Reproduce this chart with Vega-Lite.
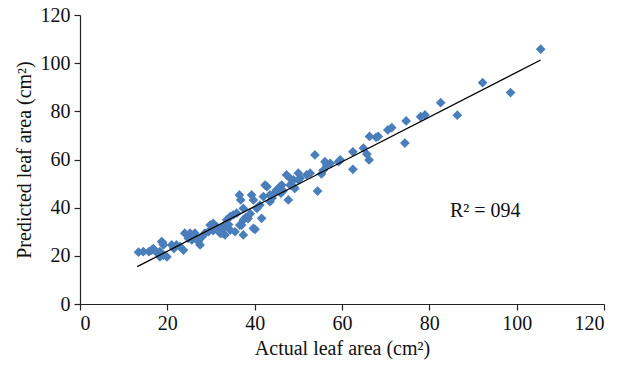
{
  "$schema": "https://vega.github.io/schema/vega-lite/v6.json",
  "autosize": "none",
  "width": 524,
  "height": 289,
  "padding": {"left": 80, "top": 15, "right": 30, "bottom": 63},
  "background": "white",
  "config": {
    "view": {"stroke": null},
    "font": "Liberation Serif",
    "axis": {
      "grid": false,
      "domainColor": "#222222",
      "tickColor": "#222222",
      "labelColor": "#111111",
      "titleColor": "#111111",
      "labelFont": "Liberation Serif",
      "titleFont": "Liberation Serif",
      "labelFontSize": 20,
      "titleFontSize": 20,
      "titleFontWeight": "normal",
      "tickSize": 6,
      "domainWidth": 1.2,
      "tickWidth": 1.2
    }
  },
  "datasets": {
    "pts": [
      {"a": 13.4, "p": 21.5}, {"a": 14.5, "p": 21.7}, {"a": 15.8, "p": 21.7}, {"a": 16.4, "p": 22.4},
      {"a": 16.8, "p": 23.0}, {"a": 17.6, "p": 21.3}, {"a": 18.3, "p": 21.7}, {"a": 18.3, "p": 19.6},
      {"a": 19.1, "p": 20.3}, {"a": 19.9, "p": 19.6}, {"a": 18.7, "p": 25.9}, {"a": 19.1, "p": 24.5},
      {"a": 18.9, "p": 25.5}, {"a": 22.1, "p": 24.5}, {"a": 22.9, "p": 23.8}, {"a": 23.7, "p": 22.4},
      {"a": 21.5, "p": 23.0}, {"a": 21.0, "p": 24.5}, {"a": 24.0, "p": 29.4}, {"a": 25.2, "p": 29.4},
      {"a": 26.3, "p": 29.4}, {"a": 27.1, "p": 25.9}, {"a": 27.5, "p": 24.5}, {"a": 25.6, "p": 26.6},
      {"a": 24.8, "p": 27.3}, {"a": 26.5, "p": 27.5}, {"a": 28.0, "p": 28.0}, {"a": 28.6, "p": 29.4},
      {"a": 29.4, "p": 30.0}, {"a": 29.8, "p": 32.8}, {"a": 30.5, "p": 33.5}, {"a": 30.5, "p": 30.5},
      {"a": 31.3, "p": 32.1}, {"a": 32.1, "p": 31.4}, {"a": 32.4, "p": 29.4}, {"a": 32.8, "p": 32.1},
      {"a": 32.1, "p": 29.4}, {"a": 33.2, "p": 28.7}, {"a": 33.0, "p": 31.5}, {"a": 33.6, "p": 34.9},
      {"a": 34.0, "p": 33.0}, {"a": 34.4, "p": 36.3}, {"a": 34.4, "p": 30.7}, {"a": 35.1, "p": 37.0},
      {"a": 35.5, "p": 30.0}, {"a": 35.9, "p": 37.7}, {"a": 36.6, "p": 32.8}, {"a": 37.0, "p": 32.8},
      {"a": 37.4, "p": 34.9}, {"a": 37.4, "p": 39.7}, {"a": 37.4, "p": 28.7}, {"a": 36.5, "p": 45.3},
      {"a": 36.8, "p": 43.2}, {"a": 38.0, "p": 36.0}, {"a": 38.5, "p": 35.5}, {"a": 39.0, "p": 37.5},
      {"a": 39.3, "p": 45.3}, {"a": 39.7, "p": 43.2}, {"a": 40.1, "p": 31.0}, {"a": 39.7, "p": 31.4},
      {"a": 40.5, "p": 39.7}, {"a": 41.2, "p": 41.1}, {"a": 41.6, "p": 35.6}, {"a": 42.0, "p": 44.6},
      {"a": 42.4, "p": 49.4}, {"a": 42.8, "p": 48.7}, {"a": 43.5, "p": 45.3}, {"a": 43.5, "p": 42.5},
      {"a": 44.0, "p": 44.0}, {"a": 44.5, "p": 46.0}, {"a": 45.0, "p": 47.3}, {"a": 45.8, "p": 48.7},
      {"a": 46.0, "p": 46.0}, {"a": 46.2, "p": 49.4}, {"a": 46.5, "p": 47.0}, {"a": 47.3, "p": 53.6},
      {"a": 47.7, "p": 43.2}, {"a": 48.1, "p": 52.2}, {"a": 48.1, "p": 49.4}, {"a": 48.9, "p": 48.7},
      {"a": 48.9, "p": 51.5}, {"a": 49.2, "p": 48.0}, {"a": 50.0, "p": 54.3}, {"a": 50.0, "p": 51.5},
      {"a": 50.4, "p": 52.2}, {"a": 51.9, "p": 53.6}, {"a": 52.7, "p": 54.3}, {"a": 53.8, "p": 61.9},
      {"a": 54.4, "p": 46.9}, {"a": 55.3, "p": 54.0}, {"a": 55.7, "p": 55.5}, {"a": 56.1, "p": 59.1},
      {"a": 56.5, "p": 57.7}, {"a": 57.3, "p": 58.4}, {"a": 59.2, "p": 59.1}, {"a": 59.6, "p": 59.8},
      {"a": 62.5, "p": 63.2}, {"a": 62.5, "p": 55.9}, {"a": 64.9, "p": 64.7}, {"a": 65.7, "p": 62.2},
      {"a": 66.2, "p": 59.8}, {"a": 66.3, "p": 69.6}, {"a": 67.8, "p": 69.2}, {"a": 68.3, "p": 69.6},
      {"a": 70.5, "p": 72.3}, {"a": 71.4, "p": 73.2}, {"a": 74.4, "p": 66.8}, {"a": 74.7, "p": 76.0},
      {"a": 78.0, "p": 77.8}, {"a": 79.0, "p": 78.5}, {"a": 82.6, "p": 83.6}, {"a": 86.4, "p": 78.4},
      {"a": 92.2, "p": 91.9}, {"a": 98.6, "p": 87.8}, {"a": 105.5, "p": 105.8}
    ],
    "fit": [
      {"a": 13.1, "p": 15.5},
      {"a": 105.5, "p": 101.3}
    ],
    "note": [
      {"a": 92.8, "p": 38.6, "t": "R² = 094"}
    ]
  },
  "layer": [
    {
      "data": {"name": "pts"},
      "mark": {"type": "point", "shape": "diamond", "filled": true, "size": 95, "color": "#4a7ebb", "opacity": 1},
      "encoding": {
        "x": {
          "field": "a", "type": "quantitative",
          "scale": {"domain": [0, 120], "nice": false, "zero": true},
          "axis": {"values": [0, 20, 40, 60, 80, 100, 120], "title": "Actual leaf area (cm²)", "labelPadding": 3, "titlePadding": 5}
        },
        "y": {
          "field": "p", "type": "quantitative",
          "scale": {"domain": [0, 120], "nice": false},
          "axis": {"values": [0, 20, 40, 60, 80, 100, 120], "title": "Predicted leaf area (cm²)", "labelPadding": 4, "titlePadding": 6}
        }
      }
    },
    {
      "data": {"name": "fit"},
      "mark": {"type": "line", "color": "#000000", "strokeWidth": 1.3},
      "encoding": {
        "x": {"field": "a", "type": "quantitative"},
        "y": {"field": "p", "type": "quantitative"}
      }
    },
    {
      "data": {"name": "note"},
      "mark": {"type": "text", "font": "Liberation Serif", "fontSize": 20, "align": "center", "baseline": "middle", "color": "#111111"},
      "encoding": {
        "x": {"field": "a", "type": "quantitative"},
        "y": {"field": "p", "type": "quantitative"},
        "text": {"field": "t"}
      }
    }
  ]
}
